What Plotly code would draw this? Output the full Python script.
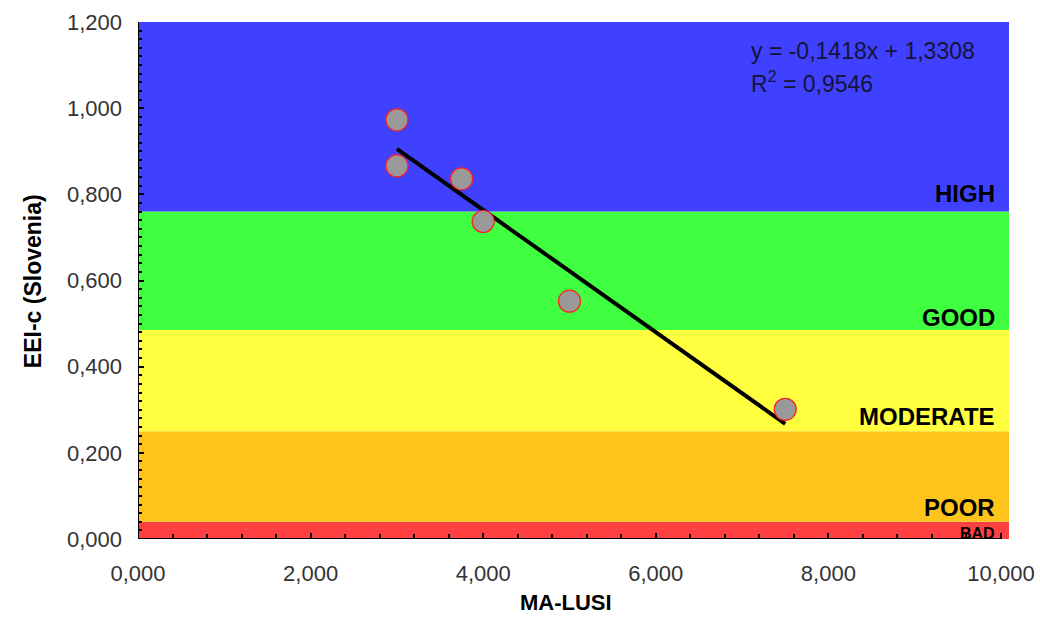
import plotly.graph_objects as go

# MA-LUSI vs EEI-c (Slovenia) samples
ma_lusi = [3.0, 3.0, 3.75, 4.0, 5.0, 7.5]
eei_c = [0.973, 0.866, 0.836, 0.737, 0.552, 0.301]

# Linear trend as reported
slope = -0.1418
intercept = 1.3308
r_squared = 0.9546

# Ecological status classes (lower/upper EEI-c limits)
class_names = ["BAD", "POOR", "MODERATE", "GOOD", "HIGH"]
class_lower = [0.0, 0.04, 0.25, 0.485, 0.76]
class_upper = [0.04, 0.25, 0.485, 0.76, 1.2]
class_colors = ["#FF4040", "#FDC51C", "#FFFF40", "#40FF40", "#4040FF"]
label_y = [0.013, 0.074, 0.285, 0.513, 0.803]
label_size = [16, 24, 24, 24, 24]

x_ticks = [0, 2, 4, 6, 8, 10]
x_max = 10.0
x_range = [0, 10.093]   # coloured bands run a little past the last tick
y_range = [0, 1.2]

FONT = "Liberation Sans, Arial, sans-serif"

fig = go.Figure()

for lo, hi, col in zip(class_lower, class_upper, class_colors):
    fig.add_shape(type="rect", xref="paper", yref="y", x0=0, x1=1, y0=lo, y1=hi,
                  fillcolor=col, line_width=0, layer="below")

# axis lines: the x axis line stops at the last tick
fig.add_shape(type="line", xref="x", yref="y", x0=0, x1=x_max, y0=0, y1=0,
              line=dict(color="black", width=2))
fig.add_shape(type="line", xref="x", yref="y", x0=0, x1=0, y0=y_range[0], y1=y_range[1],
              line=dict(color="black", width=2))

for name, yy, sz in zip(class_names, label_y, label_size):
    fig.add_annotation(xref="paper", yref="y", x=0.986, y=yy, text="<b>%s</b>" % name,
                       showarrow=False, xanchor="right", yanchor="middle",
                       font=dict(family=FONT, size=sz, color="black"))

trend_x = [min(ma_lusi), max(ma_lusi)]
trend_y = [slope * v + intercept for v in trend_x]
fig.add_trace(go.Scatter(x=trend_x, y=trend_y, mode="lines",
                         line=dict(color="black", width=4), hoverinfo="skip"))

fig.add_trace(go.Scatter(x=ma_lusi, y=eei_c, mode="markers",
                         marker=dict(size=22, color="#999999", line=dict(color="#FF2020", width=1.2))))


def comma(v):
    return ("%.4f" % v).replace(".", ",")


eq_font = dict(family=FONT, size=23, color="#14143a")
fig.add_annotation(xref="paper", yref="paper", x=0.7015, y=0.943,
                   text="y = %sx + %s" % (comma(slope), comma(intercept)),
                   showarrow=False, xanchor="left", yanchor="middle", font=eq_font)
fig.add_annotation(xref="paper", yref="paper", x=0.7015, y=0.884,
                   text="R<sup>2</sup> = %s" % comma(r_squared),
                   showarrow=False, xanchor="left", yanchor="middle", font=eq_font)

# axis titles
fig.add_annotation(xref="paper", yref="paper", x=0.491, y=-0.123,
                   text="<b>MA-LUSI</b>", showarrow=False, xanchor="center", yanchor="middle",
                   font=dict(family=FONT, size=22, color="black"))
fig.add_annotation(xref="paper", yref="paper", x=-0.121, y=0.498,
                   text="<b>EEI-c (Slovenia)</b>", showarrow=False, textangle=-90,
                   xanchor="center", yanchor="middle",
                   font=dict(family=FONT, size=23, color="black"))

tick_font = dict(family=FONT, size=22, color="#333333")

fig.update_layout(
    width=1040, height=618,
    margin=dict(l=138, r=31, t=22, b=79),
    paper_bgcolor="white", plot_bgcolor="white",
    separators=",.",
    showlegend=False,
    xaxis=dict(range=x_range, tickmode="array", tickvals=x_ticks, tickformat=".3f",
               automargin=False,
               showgrid=False, zeroline=False, showline=False,
               ticks="inside", ticklen=6, tickcolor="black", tickwidth=1.5, tickfont=tick_font,
               ticklabelstandoff=19,
               minor=dict(ticks="inside", tickmode="linear", tick0=0, dtick=0.4, ticklen=5,
                          tickcolor="black", tickwidth=1.5)),
    yaxis=dict(range=y_range, tickmode="linear", tick0=0, dtick=0.2, tickformat=".3f",
               automargin=False,
               showgrid=False, zeroline=False, showline=False,
               ticks="inside", ticklen=6, tickcolor="black", tickwidth=1.5, tickfont=tick_font,
               ticklabelstandoff=15,
               minor=dict(ticks="inside", dtick=0.02, ticklen=4, tickcolor="black", tickwidth=1.5)),
)

fig.write_html("out.html")
